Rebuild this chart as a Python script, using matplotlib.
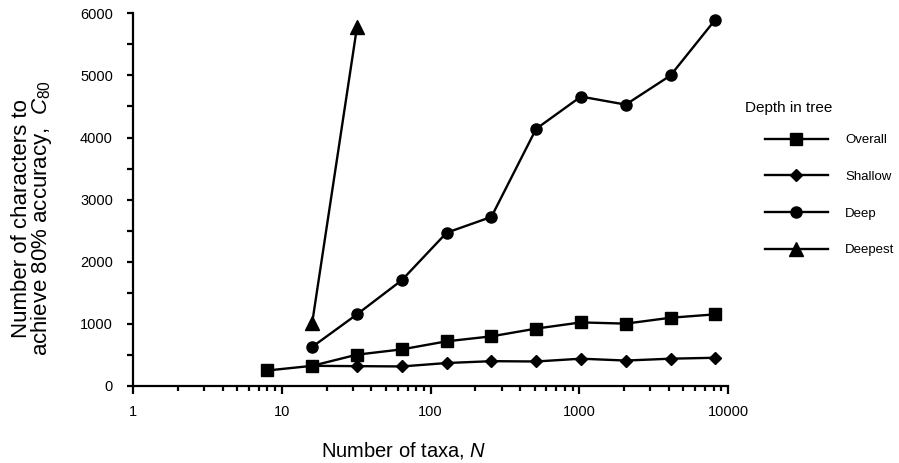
import matplotlib
matplotlib.use('Agg')
import matplotlib.pyplot as plt
from matplotlib.ticker import LogLocator, NullFormatter, MultipleLocator, FixedLocator

plt.rcParams['font.family'] = ['Liberation Sans', 'DejaVu Sans']
plt.rcParams['mathtext.fontset'] = 'custom'
plt.rcParams['mathtext.rm'] = 'Liberation Sans'
plt.rcParams['mathtext.it'] = 'Liberation Sans:italic'

# data
taxa = [8, 16, 32, 64, 128, 256, 512, 1024, 2048, 4096, 8192]
overall = [245, 320, 500, 585, 715, 795, 920, 1020, 1000, 1095, 1150]
shallow_taxa = taxa[1:]
shallow = [320, 315, 310, 365, 395, 390, 435, 405, 435, 450]
deep_taxa = taxa[1:]
deep = [625, 1150, 1700, 2465, 2720, 4140, 4660, 4530, 5000, 5900]
deepest_taxa = [16, 32]
deepest = [1015, 5780]

series_names = ['Overall', 'Shallow', 'Deep', 'Deepest']
xtick_vals = [1, 10, 100, 1000, 10000]
xtick_labels = ['1', '10', '100', '1000', '10000']

fig = plt.figure(figsize=(8.99, 4.63), dpi=100)
ax = fig.add_axes([0.148, 0.167, 0.662, 0.804])

lw = 1.7
ax.plot(taxa, overall, color='black', lw=lw, marker='s', ms=8, label=series_names[0])
ax.plot(shallow_taxa, shallow, color='black', lw=lw, marker='D', ms=6.5, label=series_names[1])
ax.plot(deep_taxa, deep, color='black', lw=lw, marker='o', ms=8, label=series_names[2])
ax.plot(deepest_taxa, deepest, color='black', lw=lw, marker='^', ms=10, label=series_names[3])

ax.set_xscale('log')
ax.set_xlim(1, 10000)
ax.set_ylim(0, 6000)

ax.xaxis.set_major_locator(FixedLocator(xtick_vals))
ax.xaxis.set_minor_locator(LogLocator(base=10, subs=range(2, 10)))
ax.xaxis.set_minor_formatter(NullFormatter())
ax.set_xticklabels(xtick_labels)
ax.yaxis.set_major_locator(MultipleLocator(1000))
ax.yaxis.set_minor_locator(MultipleLocator(500))

for s in ['top', 'right']:
    ax.spines[s].set_visible(False)
for s in ['left', 'bottom']:
    ax.spines[s].set_linewidth(1.6)

ax.tick_params(axis='x', which='major', direction='out', length=5.8, width=1.6, labelsize=10.5, pad=8)
ax.tick_params(axis='x', which='minor', direction='out', length=3.6, width=1.6)
ax.tick_params(axis='y', which='major', direction='out', length=4.5, width=1.6, labelsize=10.5, pad=10)
ax.tick_params(axis='y', which='minor', direction='out', length=4.5, width=1.6)

ax.set_xlabel('Number of taxa, $N$', fontsize=14.5)
ax.xaxis.set_label_coords(0.455, -0.147)
ax.set_ylabel('Number of characters to\nachieve 80% accuracy,  $C_{80}$', fontsize=16,
              linespacing=0.85)
ax.yaxis.set_label_coords(-0.133, 0.45)

fig.text(745 / 899, 1 - 108 / 463, 'Depth in tree', fontsize=11, va='center', ha='left')
leg = fig.legend(loc='upper left', bbox_to_anchor=(765 / 899, 1 - 134 / 463), frameon=False,
                 fontsize=9.5, handlelength=4.77, handletextpad=1.3, labelspacing=1.85,
                 borderpad=0, borderaxespad=0)

fig.savefig('out.png', dpi=100)
